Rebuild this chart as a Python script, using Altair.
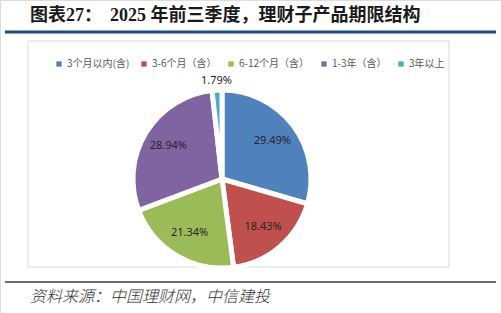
import altair as alt
import pandas as pd

categories = ["3个月以内(含)", "3-6个月（含）", "6-12个月（含）", "1-3年（含）", "3年以上"]
values = [29.49, 18.43, 21.34, 28.94, 1.79]
colors = ["#4F81BD", "#C0504D", "#9BBB59", "#8064A2", "#4BACC6"]

title_head = "图表27："
title_text = "2025 年前三季度，理财子产品期限结构"
source_text = "资料来源：中国理财网，中信建投"

df = pd.DataFrame({"category": categories, "value": values, "idx": list(range(len(values)))})

CX, CY, R = 222, 179, 89

base = alt.Chart(df).transform_calculate(
    label="format(datum.value, '.2f') + '%'"
)

pie = base.mark_arc(outerRadius=R, stroke="white", strokeWidth=5).encode(
    theta=alt.Theta("value:Q", stack=True),
    order=alt.Order("idx:Q"),
    color=alt.Color(
        "category:N",
        scale=alt.Scale(domain=categories, range=colors),
        sort=categories,
        legend=alt.Legend(
            title=None, orient="none", legendX=54, legendY=59, direction="horizontal",
            symbolType="square", symbolSize=28, symbolStrokeWidth=0,
            labelFont="Noto Sans CJK SC", labelFontSize=10, labelColor="#595959",
            columnPadding=9, labelOffset=3,
        ),
    ),
    x=alt.value(CX),
    y=alt.value(CY),
)

small_label = base.mark_text(
    radius=R + 9, font="Noto Sans", fontSize=11, color="#262626"
).encode(
    theta=alt.Theta("value:Q", stack=True),
    order=alt.Order("idx:Q"),
    text=alt.condition("datum.value <= 5", "label:N", alt.value("")),
    x=alt.value(CX),
    y=alt.value(CY),
)
inner_labels = base.mark_text(
    radius=63, font="Noto Sans", fontSize=11, color="#262626"
).encode(
    theta=alt.Theta("value:Q", stack=True),
    order=alt.Order("idx:Q"),
    text=alt.condition("datum.value > 5", "label:N", alt.value("")),
    x=alt.value(CX),
    y=alt.value(CY),
)

one = pd.DataFrame({"a": [0]})

frame = alt.Chart(one).mark_rect(
    fill=None, stroke="#D9D9D9", strokeWidth=1
).encode(x=alt.value(28), x2=alt.value(449), y=alt.value(41), y2=alt.value(267))

blue_rule = alt.Chart(one).mark_rule(
    color="#1B4F80", strokeWidth=3
).encode(x=alt.value(5), x2=alt.value(496), y=alt.value(32))

bottom_rule = alt.Chart(one).mark_rule(
    color="#3A3A3A", strokeWidth=1.5
).encode(x=alt.value(5), x2=alt.value(496), y=alt.value(282))

title1 = alt.Chart(pd.DataFrame({"t": [title_head]})).mark_text(
    align="left", baseline="middle", font="Liberation Serif, Noto Sans CJK SC",
    fontSize=18, fontWeight="bold", color="#1a1a1a"
).encode(text="t:N", x=alt.value(30), y=alt.value(16))

title2 = alt.Chart(pd.DataFrame({"t": [title_text]})).mark_text(
    align="left", baseline="middle", font="Liberation Serif, Noto Sans CJK SC",
    fontSize=18, fontWeight="bold", color="#1a1a1a"
).encode(text="t:N", x=alt.value(110), y=alt.value(16))

source = alt.Chart(pd.DataFrame({"t": [source_text]})).mark_text(
    align="left", baseline="middle", font="Noto Sans CJK SC",
    fontSize=16, fontStyle="italic", fontWeight=300, color="#333333"
).encode(text="t:N", x=alt.value(30), y=alt.value(297))

chart = alt.layer(frame, blue_rule, bottom_rule, title1, title2, source, pie, inner_labels, small_label).properties(
    width=501, height=313, autosize=alt.AutoSizeParams(type="none"), padding=0
).configure_view(stroke=None).configure(background="white")

chart.save("out.html", embed_options={"renderer": "svg", "actions": False})
